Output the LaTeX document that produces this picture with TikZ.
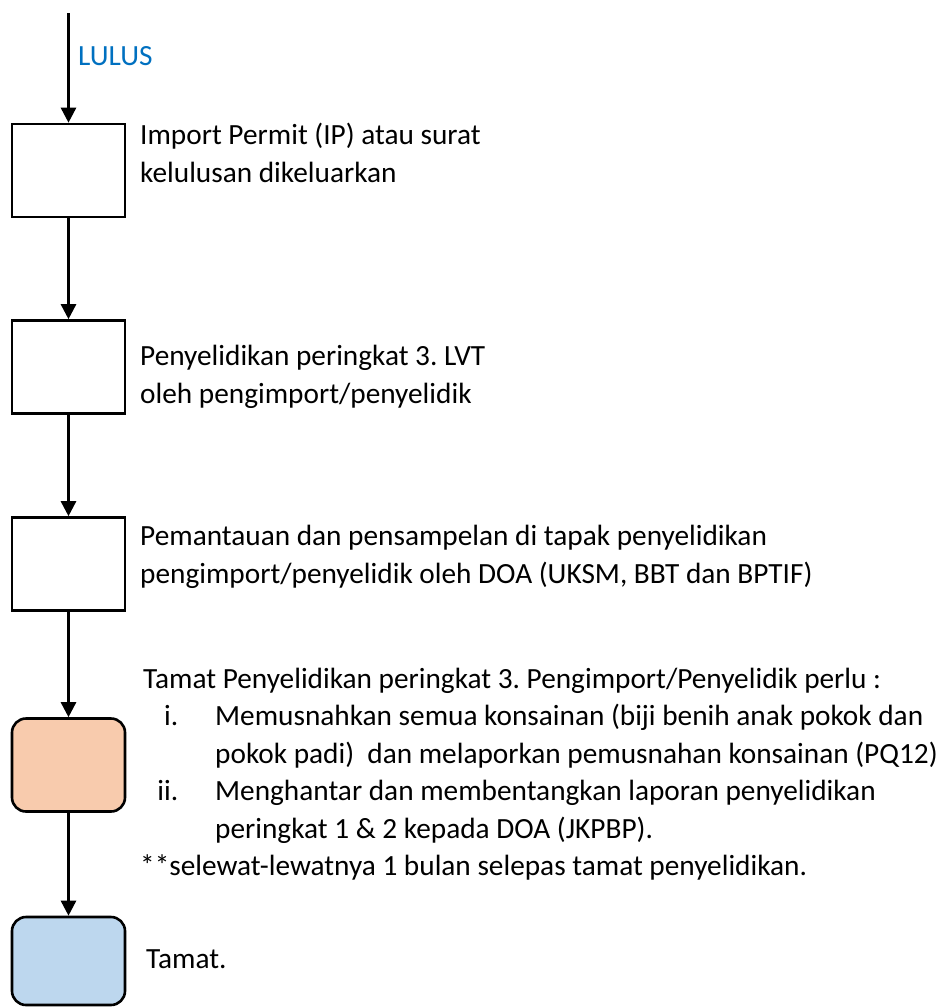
\documentclass[tikz,border=0pt]{standalone}
\usepackage{fontspec}
\setmainfont{Carlito}
\usetikzlibrary{arrows.meta}
\frenchspacing
\definecolor{lulusblue}{HTML}{0070C0}
\definecolor{peach}{HTML}{F8CBAD}
\definecolor{paleblue}{HTML}{BDD7EE}
\tikzset{
  stepbox/.style={draw,line width=2.6pt,minimum width=113pt,minimum height=93pt,inner sep=0pt},
  endbox/.style={stepbox,rounded corners=14pt},
  flow/.style={line width=2.6pt,-{Triangle[length=15pt,width=15pt]}},
  note/.style={anchor=base west,inner sep=0pt,align=left,font=\fontsize{29.3}{37.5}\selectfont}
}
\begin{document}
\begin{tikzpicture}[x=1pt,y=-1pt]
  \useasboundingbox (0,0) rectangle (942,1007);
  % boxes down the left side
  \node[stepbox] (ip) at (68.5,170.5) {};
  \node[stepbox] (lvt) at (68.5,367) {};
  \node[stepbox] (pantau) at (68.5,564) {};
  \node[endbox,fill=peach] (tamat) at (68.5,765) {};
  \node[endbox,fill=paleblue,minimum height=88pt] (akhir) at (68.5,961) {};
  % arrows between them
  \coordinate (mula) at (68.5,13);
  \draw[flow] (mula) -- (ip);
  \draw[flow] (ip) -- (lvt);
  \draw[flow] (lvt) -- (pantau);
  \draw[flow] (pantau) -- (tamat);
  \draw[flow] (tamat) -- (akhir);
  % texts beside them
  \node[note,text=lulusblue] (lulus) at (78,65) {LULUS};
  \node[note] (ipteks) at (140,182) {Import Permit (IP) atau surat\\kelulusan dikeluarkan};
  \node[note] (lvtteks) at (140,403) {Penyelidikan peringkat 3. LVT\\oleh pengimport/penyelidik};
  \node[note] (pantauteks) at (140,583) {Pemantauan dan pensampelan di tapak penyelidikan\\pengimport/penyelidik oleh DOA (UKSM, BBT dan BPTIF)};
  \node[note] (tamatteks) at (140,688) {\begin{tabular}[t]{@{}r@{\hspace{37pt}}l@{}}
    \multicolumn{2}{@{}l@{}}{\hspace{3pt}Tamat Penyelidikan peringkat 3. Pengimport/Penyelidik perlu :}\\
    \makebox[38pt][r]{i.} & Memusnahkan semua konsainan (biji benih anak pokok dan\\
     & pokok padi)\ \ dan melaporkan pemusnahan konsainan (PQ12)\\
    \makebox[38pt][r]{ii.} & Menghantar dan membentangkan laporan penyelidikan\\
     & peringkat 1 \& 2 kepada DOA (JKPBP).\\
    \multicolumn{2}{@{}l@{}}{**selewat-lewatnya 1 bulan selepas tamat penyelidikan.}
  \end{tabular}};
  \node[note] (akhirteks) at (146,968) {Tamat.};
\end{tikzpicture}
\end{document}
